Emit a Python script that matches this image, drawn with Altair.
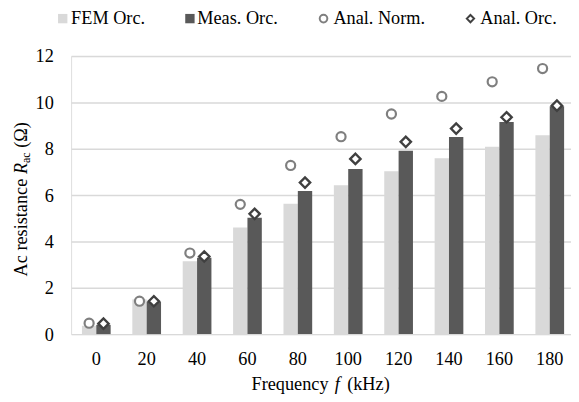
import altair as alt
import pandas as pd

freq = [0, 20, 40, 60, 80, 100, 120, 140, 160, 180]
fem_orc = [0.36, 1.5, 3.15, 4.6, 5.63, 6.42, 7.03, 7.59, 8.09, 8.58]
meas_orc = [0.4, 1.4, 3.3, 5.02, 6.18, 7.13, 7.91, 8.51, 9.16, 9.83]
anal_norm = [0.47, 1.42, 3.5, 5.6, 7.28, 8.52, 9.5, 10.26, 10.89, 11.46]
anal_orc = [0.45, 1.42, 3.35, 5.19, 6.54, 7.56, 8.3, 8.87, 9.36, 9.86]
series_names = ["FEM Orc.", "Meas. Orc.", "Anal. Norm.", "Anal. Orc."]
y_ticks = [0, 2, 4, 6, 8, 10, 12]

FONT = "'Liberation Serif', 'Times New Roman', Times, serif"
FS = 18.5
C_FEM = "#d9d9d9"
C_MEAS = "#595959"
C_NORM = "#7f7f7f"
C_ORC = "#404040"

bars_df = pd.DataFrame({
    "freq": freq * 2,
    "series": [series_names[0]] * len(freq) + [series_names[1]] * len(freq),
    "value": fem_orc + meas_orc,
})
norm_df = pd.DataFrame({"freq": freq, "slot": [series_names[0]] * len(freq), "value": anal_norm})
orc_df = pd.DataFrame({"freq": freq, "slot": [series_names[1]] * len(freq), "value": anal_orc})

x_enc = alt.X(
    "freq:O", sort=freq,
    scale=alt.Scale(range=[0, 511], paddingInner=0.43, paddingOuter=0.215),
    axis=alt.Axis(labelAngle=0, ticks=False, domain=False, grid=False,
                  labelFont=FONT, labelFontSize=FS, labelColor="black",
                  labelPadding=16, title=None),
)
y_enc = alt.Y(
    "value:Q", scale=alt.Scale(domain=[0, 12]),
    axis=alt.Axis(values=y_ticks, ticks=False, domain=False, grid=True,
                  gridColor="#d9d9d9", gridWidth=1.5,
                  labelFont=FONT, labelFontSize=FS, labelColor="black",
                  labelPadding=18, title=None),
)
xoff = alt.XOffset("slot:N", scale=alt.Scale(domain=series_names[:2]))

bars = alt.Chart(bars_df).mark_bar().encode(
    x=x_enc, y=y_enc,
    xOffset=alt.XOffset("series:N", scale=alt.Scale(domain=series_names[:2])),
    color=alt.Color("series:N", scale=alt.Scale(domain=series_names[:2], range=[C_FEM, C_MEAS]), legend=None),
)
pts_norm = alt.Chart(norm_df).mark_point(
    shape="circle", filled=True, fill="white", stroke=C_NORM, strokeWidth=2.2, size=85, opacity=1
).encode(x=x_enc, y=y_enc, xOffset=xoff)
pts_orc = alt.Chart(orc_df).mark_point(
    shape="diamond", filled=True, fill="white", stroke=C_ORC, strokeWidth=2.4, size=110, opacity=1
).encode(x=x_enc, y=y_enc, xOffset=xoff)


def one():
    return pd.DataFrame({"k": [0]})


def txt(text, x, y, size=FS, style="normal", angle=0):
    return alt.Chart(pd.DataFrame({"t": [text]})).mark_text(
        font=FONT, fontSize=size, fontStyle=style, angle=angle,
        align="left", baseline="alphabetic", color="black"
    ).encode(x=alt.value(x), y=alt.value(y), text="t:N")


# y-axis title pieces (rotated)
ytitle = [
    txt("Ac resistance", -45, 223.5, angle=270),
    txt("R", -45, 119.7, style="italic", angle=270),
    txt("ac", -41.5, 108.4, size=12, angle=270),
    txt("(Ω)", -45, 93.1, angle=270),
]
# x-axis title pieces
xtitle = [
    txt("Frequency", 183, 339),
    txt("f", 267.5, 339, style="italic"),
    txt("(kHz)", 280, 339),
]
# legend
leg_y = -38
leg_t = -32.5
legend = [
    alt.Chart(one()).mark_square(size=90, color=C_FEM, opacity=1).encode(x=alt.value(-8.5), y=alt.value(leg_y)),
    txt(series_names[0], 0, leg_t),
    alt.Chart(one()).mark_square(size=90, color=C_MEAS, opacity=1).encode(x=alt.value(120.5), y=alt.value(leg_y)),
    txt(series_names[1], 128, leg_t),
    alt.Chart(one()).mark_point(shape="circle", filled=True, fill="white", stroke=C_NORM, strokeWidth=2,
                                size=60, opacity=1).encode(x=alt.value(256), y=alt.value(leg_y)),
    txt(series_names[2], 266, leg_t),
    alt.Chart(one()).mark_point(shape="diamond", filled=True, fill="white", stroke=C_ORC, strokeWidth=2,
                                size=55, opacity=1).encode(x=alt.value(405), y=alt.value(leg_y)),
    txt(series_names[3], 415, leg_t),
]

chart = alt.layer(bars, pts_norm, pts_orc, *ytitle, *xtitle, *legend).properties(
    width=507, height=282,
    autosize=alt.AutoSizeParams(type="none"),
    padding={"left": 64, "top": 46, "right": 0, "bottom": 60},
).configure_view(stroke=None).configure(background="white")

chart.save("out.html", embed_options={"renderer": "svg", "actions": False})
